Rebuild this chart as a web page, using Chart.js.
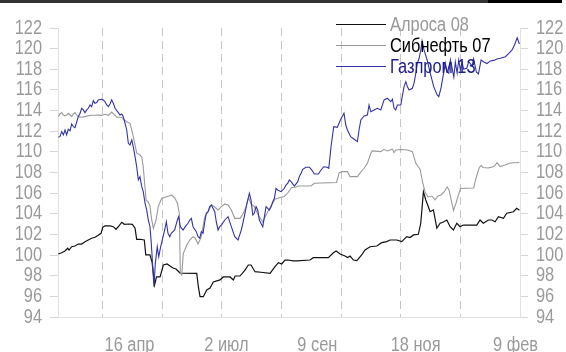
<!DOCTYPE html>
<html><head><meta charset="utf-8">
<script src="https://cdn.jsdelivr.net/npm/chart.js@4/dist/chart.umd.min.js"></script>
<style>html,body{margin:0;padding:0;background:#fff;}#wrap{width:566px;height:352px;position:relative;}</style>
</head><body><div id="wrap"><canvas id="c" width="566" height="352"></canvas></div>
<script>
const seriesNames = ['Алроса 08', 'Сибнефть 07', 'Газпром 13'];

const alrosaDays = [0.2,2.5,4.7,6.5,7.4,9.2,11.4,13.6,15.9,18.1,20.3,22.6,24.8,27.0,28.9,30.0,31.5,34.9,37.1,38.9,40.9,42.8,44.5,47.2,49.9,51.7,52.8,55.0,57.9,58.9,61.7,63.1,64.8,66.1,68.5,70.7,73.2,75.2,77.2,79.2,81.9,93.1,94.2,95.3,97.5,99.8,102.0,104.2,108.7,110.9,115.4,117.7,118.8,122.1,125.5,127.7,129.5,132.2,137.6,142.3,145.6,147.9,150.1,152.3,154.4,157.9,160.4,169.1,171.3,181.4,184.8,186.6,189.3,192.6,194.3,196.0,198.2,200.5,203.8,206.0,209.4,213.9,217.2,220.6,222.8,227.3,230.7,234.0,236.2,238.5,241.8,243.4,245.2,246.8,249.7,251.9,254.2,256.4,258.6,260.9,263.1,265.3,267.6,269.8,272.0,274.3,281.0,283.2,285.4,288.8,291.1,293.3,295.5,298.9,301.1,305.6,307.8,309.6];
const alrosaVals = [100.10,100.23,100.40,100.66,100.49,100.81,100.88,101.07,101.07,101.30,101.46,101.63,101.72,101.92,102.11,102.69,102.82,102.82,102.75,102.50,102.82,103.18,102.98,103.01,102.98,102.60,101.53,101.53,101.46,100.01,100.01,99.33,97.10,97.88,97.88,99.04,99.14,98.94,98.75,98.65,98.26,98.23,96.91,95.97,95.97,96.62,96.81,97.39,97.59,97.88,97.88,97.59,97.97,97.97,98.55,99.04,99.04,98.39,98.31,98.23,98.87,99.26,99.14,99.52,99.52,99.43,99.43,99.52,99.75,99.75,100.23,100.40,100.10,99.91,99.77,99.91,99.52,99.46,100.01,100.49,100.81,100.88,101.20,101.30,101.46,101.46,101.30,101.78,101.70,101.95,102.01,103.08,106.14,105.34,104.20,104.37,102.60,103.08,103.21,103.40,102.75,102.43,103.08,102.75,102.91,102.91,102.91,103.40,103.08,103.40,103.40,103.23,103.72,103.56,104.05,104.20,104.53,104.34];

const sibDays = [0.2,1.3,2.5,3.6,4.7,5.8,6.9,8.1,9.2,10.3,11.4,12.6,13.6,15.9,18.1,20.3,22.6,24.8,27.0,29.3,31.5,33.8,36.0,38.3,39.4,42.8,43.8,46.1,48.3,49.5,51.7,52.8,55.0,56.2,57.2,59.1,60.6,61.7,62.9,64.0,65.8,67.3,69.6,73.0,76.3,78.5,80.1,81.4,82.1,83.0,84.1,86.4,88.4,90.6,92.0,94.0,96.2,97.3,98.5,100.7,102.9,105.2,107.4,109.6,111.9,114.1,116.3,118.6,122.1,124.4,126.2,127.9,129.5,131.7,134.4,137.4,138.6,140.7,143.3,145.6,149.0,151.9,154.4,156.7,159.1,161.4,169.8,172.0,186.9,188.6,190.8,194.2,196.0,200.9,203.2,205.4,207.6,209.9,210.9,216.6,218.8,220.8,224.4,225.5,226.6,230.0,234.4,237.8,240.1,243.0,244.6,246.3,248.3,251.0,253.0,255.0,257.0,259.1,261.1,262.4,263.8,265.4,267.1,268.5,270.1,278.9,280.5,282.6,283.9,285.2,288.6,292.6,294.6,296.6,300.0,303.4,309.6];
const sibVals = [113.41,113.67,113.80,113.57,113.48,113.57,113.74,113.57,113.41,113.67,113.80,113.57,113.41,113.35,113.41,113.51,113.54,113.54,113.57,113.54,113.64,113.54,113.86,113.54,113.35,113.35,113.16,112.92,112.77,112.12,110.67,109.89,109.70,109.50,108.54,105.34,105.14,104.76,103.40,102.60,103.40,104.69,105.50,105.66,105.82,105.50,105.02,104.05,98.23,98.07,100.17,100.98,101.46,101.78,101.66,101.07,101.78,102.75,103.72,104.20,104.85,104.66,104.37,104.69,104.95,104.85,104.37,103.56,103.56,104.05,104.69,105.58,104.95,104.69,103.88,103.21,103.59,104.17,104.85,105.41,105.58,105.68,106.06,106.55,106.57,106.69,106.69,106.96,107.03,107.95,108.08,108.08,107.60,107.60,108.05,108.41,108.89,109.86,110.09,110.02,110.25,110.09,110.25,109.92,110.18,110.23,110.18,110.02,108.89,108.29,107.08,106.11,105.63,105.72,105.34,105.72,105.82,106.11,106.60,106.31,105.34,104.32,105.05,105.72,106.45,106.50,107.47,108.44,108.68,108.49,108.44,108.58,108.95,108.58,108.73,108.92,108.97];

const gazDays = [0.2,1.3,2.5,3.6,4.7,5.8,6.9,8.1,9.2,10.3,11.4,12.6,13.6,14.8,15.9,17.0,18.1,19.3,20.3,21.5,22.6,23.7,24.8,26.0,27.0,29.3,30.4,31.5,32.7,33.8,34.9,36.0,37.1,38.3,39.4,40.5,41.6,42.8,43.8,45.0,46.1,47.2,48.3,49.5,50.5,51.7,52.8,53.9,55.0,56.2,57.2,58.4,59.5,60.6,61.7,62.6,64.4,65.3,66.6,67.6,68.9,70.5,71.6,72.7,73.8,75.0,76.0,78.3,80.1,81.0,82.1,83.9,85.4,87.2,88.4,89.5,90.6,92.8,94.0,95.1,96.2,97.3,98.5,99.5,100.7,101.8,102.9,104.0,105.2,106.2,107.4,108.5,109.6,111.9,114.1,116.3,118.6,120.8,123.0,125.0,126.8,128.4,129.5,130.7,131.7,132.9,134.0,135.1,136.2,137.4,138.5,139.6,140.7,141.8,143.0,144.1,145.2,146.3,147.4,149.7,151.9,153.0,154.2,155.2,156.4,158.6,160.9,161.9,163.1,164.2,166.4,168.7,170.3,172.0,174.7,176.5,178.3,180.5,181.7,183.2,185.0,187.4,189.7,191.9,193.1,194.2,196.4,198.7,200.9,202.0,203.2,205.4,207.6,208.7,209.9,212.1,214.3,216.6,218.8,221.0,223.3,224.4,225.5,226.6,227.7,230.0,232.2,233.4,234.4,235.6,237.8,238.9,240.1,241.1,242.3,243.4,244.3,245.6,247.7,249.9,252.1,254.4,255.5,257.0,258.9,259.9,261.1,262.2,263.3,264.4,265.6,266.6,267.8,268.9,270.0,271.1,272.1,274.3,275.6,277.9,278.9,280.7,282.1,283.9,285.7,287.9,290.1,292.4,294.6,296.8,300.2,302.5,304.7,306.3,308.1,309.6];
const gazVals = [111.41,111.47,111.96,111.64,112.12,111.64,112.19,112.05,112.70,112.44,112.34,112.92,113.41,113.74,114.22,114.06,113.80,114.06,114.22,114.54,114.38,114.96,114.71,114.77,115.03,115.10,115.03,114.86,114.54,114.38,114.64,115.03,114.71,114.22,113.99,113.80,113.57,113.67,113.41,112.77,112.12,110.83,110.67,111.15,110.50,109.53,108.56,107.28,107.60,106.63,106.14,105.02,104.37,103.40,102.75,101.14,96.94,99.20,100.81,99.84,100.81,101.78,102.43,103.23,102.11,101.78,102.11,102.43,103.40,103.72,102.75,102.43,102.75,103.08,103.40,103.56,102.75,102.27,101.78,101.63,102.27,102.11,103.23,104.05,104.20,104.69,104.85,104.53,104.20,103.23,102.43,102.75,102.91,103.40,103.72,102.75,101.78,101.46,102.43,103.72,105.02,105.99,105.34,103.88,104.05,104.69,104.37,103.40,103.08,102.75,103.72,104.69,104.53,104.37,104.69,105.17,105.50,106.47,106.31,106.14,106.47,106.79,106.96,107.28,107.11,106.69,107.11,107.60,107.92,108.31,108.51,108.51,108.24,107.86,107.86,108.24,108.56,108.51,108.41,110.50,112.44,112.38,113.16,113.74,112.60,112.12,111.47,111.22,110.99,112.12,113.09,113.48,113.57,114.54,113.89,114.06,114.22,114.06,115.03,115.19,114.86,115.10,114.22,114.06,114.54,114.54,116.32,116.80,116.32,116.00,116.16,116.65,117.62,118.58,119.07,119.87,120.74,119.87,118.90,117.55,116.32,115.51,115.35,116.19,117.74,118.58,117.74,117.62,118.90,118.13,117.26,118.71,117.64,118.90,117.93,118.71,118.03,118.10,118.74,118.32,119.00,117.74,117.55,118.90,118.71,118.56,118.81,118.86,119.00,119.07,119.22,119.55,119.87,120.36,121.04,120.45];

const yTicks = [94,96,98,100,102,104,106,108,110,112,114,116,118,120,122];
const xLabels = ['16 апр', '2 июл', '9 сен', '18 ноя', '9 фев'];
const xLabelDays = [48, 113, 174, 240, 307];
const gridDays = [30, 70, 110, 150, 190, 230, 270];
const dayMin = 0, dayMax = 310;

const FONT = '"Liberation Sans", Arial, sans-serif';
const NARROW = 0.82;
const lineColors = ['#111111', '#9a9a9a', '#3434a6'];
const legendTextColors = ['#999999', '#000000', '#1c1c8c'];
const tickTextColor = '#9a9a9a';

function pts(d, v) { const n = Math.min(d.length, v.length); const o = []; for (let i = 0; i < n; i++) o.push({x: d[i], y: v[i]}); return o; }

function narrowText(c, s, x, y, align) {
  c.save(); c.translate(x, y); c.scale(NARROW, 1); c.textAlign = align; c.fillText(s, 0, 0); c.restore();
}

const deco = {
  id: 'deco',
  beforeDraw(chart) {
    const c = chart.ctx; c.save();
    c.fillStyle = '#ffffff'; c.fillRect(0, 0, chart.width, chart.height);
    c.fillStyle = '#333333'; c.fillRect(0, 0, 488, 3);
    c.fillStyle = '#000000'; c.fillRect(488, 0, 74, 3);
    c.restore();
  },
  afterDraw(chart) {
    const c = chart.ctx; c.save();
    c.font = '20px ' + FONT; c.textBaseline = 'middle';
    // axis tick labels, positioned by the chart's own scales
    c.fillStyle = tickTextColor;
    const sy = chart.scales.y, sy2 = chart.scales.y2, sx = chart.scales.x;
    sy.ticks.forEach((t, i) => narrowText(c, String(t.value), sy.right - 16, sy.getPixelForTick(i), 'right'));
    sy2.ticks.forEach((t, i) => narrowText(c, String(t.value), sy2.left + 16, sy2.getPixelForTick(i), 'left'));
    sx.ticks.forEach((t, i) => {
      const k = xLabelDays.indexOf(t.value);
      if (k >= 0) narrowText(c, xLabels[k], sx.getPixelForTick(i), sx.top + 28, 'center');
    });
    // legend
    const rows = [24, 45, 66];
    seriesNames.forEach((n, i) => {
      c.strokeStyle = lineColors[i]; c.lineWidth = 1;
      c.beginPath(); c.moveTo(336, rows[i] + 0.5); c.lineTo(386, rows[i] + 0.5); c.stroke();
      c.fillStyle = legendTextColors[i];
      narrowText(c, n, 390, rows[i] + 1, 'left');
    });
    c.restore();
  }
};

const yAxisCommon = {
  min: 94, max: 122,
  afterBuildTicks: s => { s.ticks = yTicks.map(v => ({value: v})); },
  ticks: { display: false, autoSkip: false },
  grid: { drawOnChartArea: false, drawTicks: true, tickLength: 8, color: '#d6d6d6' },
  border: { display: true, color: '#e2e2e2' }
};

new Chart(document.getElementById('c'), {
  type: 'line',
  data: {
    datasets: [
      { label: seriesNames[2], data: pts(gazDays, gazVals), borderColor: lineColors[2], borderWidth: 1.1, pointRadius: 0, tension: 0, order: 0, yAxisID: 'y', xAxisID: 'x' },
      { label: seriesNames[1], data: pts(sibDays, sibVals), borderColor: lineColors[1], borderWidth: 1.1, pointRadius: 0, tension: 0, order: 1, yAxisID: 'y', xAxisID: 'x' },
      { label: seriesNames[0], data: pts(alrosaDays, alrosaVals), borderColor: lineColors[0], borderWidth: 1.2, pointRadius: 0, tension: 0, order: 2, yAxisID: 'y', xAxisID: 'x' }
    ]
  },
  options: {
    responsive: false, animation: false, devicePixelRatio: 1,
    layout: { padding: { top: 28, left: 0, right: 0, bottom: 0 } },
    plugins: { legend: { display: false }, tooltip: { enabled: false } },
    scales: {
      x: {
        type: 'linear', position: 'bottom', min: dayMin, max: dayMax,
        afterBuildTicks: s => { s.ticks = xLabelDays.map(v => ({value: v})); },
        afterFit: s => { s.height = 35; },
        ticks: { display: false, autoSkip: false, maxRotation: 0, minRotation: 0 },
        grid: { display: false, drawTicks: false },
        border: { display: true, color: '#e2e2e2' }
      },
      xg: {
        type: 'linear', position: 'bottom', min: dayMin, max: dayMax,
        afterBuildTicks: s => { s.ticks = gridDays.map(v => ({value: v})); },
        afterFit: s => { s.height = 0; },
        ticks: { display: false },
        grid: { display: true, drawTicks: false, drawOnChartArea: true, color: '#c6c6c6', lineWidth: 1 },
        border: { display: false, dash: [8, 5] }
      },
      y: Object.assign({}, yAxisCommon, { position: 'left', afterFit: s => { s.width = 58; } }),
      y2: Object.assign({}, yAxisCommon, { position: 'right', afterFit: s => { s.width = 46; } })
    }
  },
  plugins: [deco]
});
</script></body></html>
